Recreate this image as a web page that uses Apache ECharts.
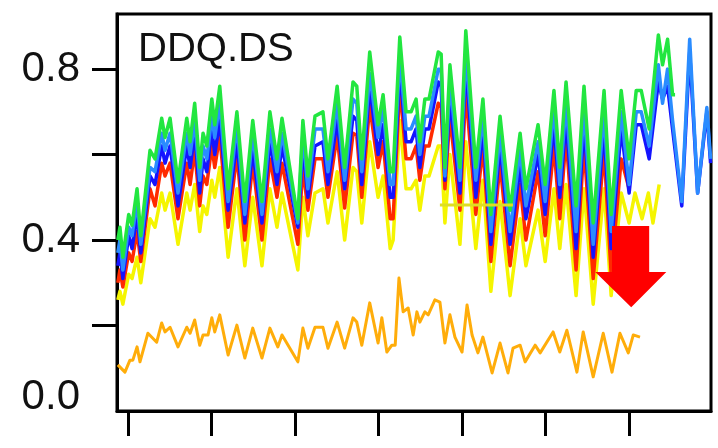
<!DOCTYPE html>
<html>
<head>
<meta charset="utf-8">
<script src="https://cdn.jsdelivr.net/npm/echarts@6/dist/echarts.min.js"></script>
<style>html,body{margin:0;padding:0;background:#fff;}#c{width:718px;height:448px;}</style>
</head>
<body>
<div id="c"></div>
<script>
// ---- data (x = sample index, y = value) ----
const chartTitle = 'DDQ.DS';
const yTickLabels = [0, 0.4, 0.8];
const yTicks = [0.2, 0.4, 0.6, 0.8];
const xTicks = [0, 20, 40, 60, 80, 100, 120];

const xMain = [-2.4,-1.9,-1.2,0.2,1.0,2.2,3.1,5.3,6.5,8.1,
  8.9,10.1,12.0,14.1,14.9,16.0,17.2,18.0,18.9,20.1,
  20.8,22.0,24.0,26.1,28.0,29.9,32.1,34.0,35.7,36.9,
  40.7,41.9,43.1,44.8,46.7,47.9,50.1,51.9,53.9,54.8,
  56.0,57.9,59.9,61.1,62.8,63.5,65.1,66.6,67.8,69.0,
  69.9,71.1,72.1,74.3,75.0,75.9,77.1,79.5,80.9,83.3,
  85.0,86.9,89.1,91.5,93.9,95.3,98.2,99.9,102.0,103.4,
  104.9,107.3,109.2,111.4,114.0,115.7,118.1,120.0];

const greenMain = [.40,.43,.36,.46,.435,.52,.41,.61,.59,.685,
  .64,.685,.536,.685,.63,.72,.57,.65,.62,.73,
  .67,.76,.52,.70,.49,.68,.49,.70,.59,.685,
  .45,.68,.55,.69,.70,.59,.76,.57,.77,.76,
  .59,.84,.67,.74,.56,.56,.875,.70,.70,.73,
  .63,.73,.73,.84,.835,.57,.81,.57,.89,.57,
  .73,.46,.69,.47,.65,.52,.67,.53,.75,.57,
  .77,.48,.76,.44,.75,.46,.75,.59];
const lightBlueMain = [.37,.40,.33,.43,.41,.49,.39,.57,.56,.65,
  .61,.65,.51,.65,.60,.68,.54,.62,.59,.69,
  .64,.72,.49,.67,.46,.65,.46,.66,.56,.65,
  .44,.65,.52,.66,.66,.56,.72,.54,.73,.72,
  .56,.79,.64,.71,.53,.53,.83,.66,.66,.69,
  .60,.69,.69,.80,.80,.55,.77,.54,.84,.54,
  .69,.42,.65,.42,.61,.48,.63,.49,.71,.53,
  .72,.42,.71,.39,.70,.42,.70,.53];
const blueMain = [.34,.37,.31,.41,.38,.46,.37,.55,.53,.62,
  .58,.62,.48,.62,.57,.65,.51,.59,.56,.66,
  .60,.68,.47,.63,.44,.61,.44,.63,.53,.62,
  .43,.62,.50,.62,.63,.53,.68,.52,.69,.68,
  .53,.76,.60,.67,.50,.50,.80,.63,.63,.66,
  .57,.66,.66,.77,.76,.54,.73,.51,.81,.50,
  .66,.39,.62,.39,.57,.45,.60,.46,.67,.50,
  .68,.38,.67,.36,.66,.38,.66,.51];
const redMain = [.30,.33,.29,.37,.35,.42,.35,.52,.48,.58,
  .55,.58,.45,.58,.53,.61,.48,.55,.53,.62,
  .57,.645,.43,.60,.40,.58,.40,.59,.50,.58,
  .39,.57,.47,.59,.59,.50,.645,.475,.65,.645,
  .50,.715,.57,.63,.45,.45,.76,.59,.59,.62,
  .54,.62,.62,.72,.71,.52,.69,.47,.75,.46,
  .62,.35,.58,.34,.53,.40,.56,.41,.62,.45,
  .64,.33,.62,.31,.61,.32,.59,.52];
const yellowMain = [.26,.28,.25,.32,.31,.36,.30,.45,.43,.51,
  .47,.51,.39,.51,.47,.53,.42,.48,.46,.54,
  .50,.57,.36,.52,.34,.50,.34,.52,.43,.51,
  .33,.50,.41,.51,.52,.44,.56,.40,.57,.56,
  .44,.63,.50,.55,.38,.40,.68,.52,.52,.54,
  .47,.55,.55,.62,.62,.44,.60,.39,.63,.38,
  .54,.28,.49,.27,.45,.34,.47,.35,.52,.38,
  .53,.27,.52,.25,.52,.27,.51,.44];

const greenTailX = [121.7,122.9,124.8,127.0,128.0,129.2,130.4,131.0];
const greenTail  = [.75,.75,.66,.88,.81,.87,.74,.74];
const blueTailX  = [121.7,122.9,124.8,127.0,128.0,129.2,130.4,132.6,134.5,136.4,138.6,139.5];
const lightBlueTail = [.70,.70,.62,.81,.72,.80,.68,.49,.87,.51,.71,.59];
const blueTail      = [.67,.67,.59,.77,.73,.76,.66,.48,.84,.51,.70,.58];
const yellowTailX = [121.4,123.1,124.6,125.7,127.2];
const yellowTail  = [.51,.45,.51,.44,.53];

const orangeX = [-2.4,-0.7,0.5,1.2,2.2,2.9,4.8,6.9,8.1,8.9,
  10.1,12.0,14.1,14.9,16.0,17.2,18.0,19.2,20.1,20.8,
  22.0,24.0,26.1,28.0,29.9,32.1,34.0,35.9,36.9,40.7,
  41.9,43.1,44.8,46.7,47.9,50.1,51.9,53.9,54.8,56.0,
  57.9,59.9,60.8,62.0,63.2,64.0,64.9,65.9,67.1,68.3,
  69.2,69.9,71.1,71.9,73.5,74.7,75.9,77.1,78.3,80.0,
  81.2,82.4,83.8,85.0,87.2,89.1,91.0,92.2,93.9,95.1,
  97.5,98.7,101.8,103.4,105.1,107.5,109.0,111.4,113.8,115.9,
  117.8,119.8,121.0,122.6];
const orangeY = [.108,.091,.119,.119,.150,.115,.182,.161,.206,.185,
  .196,.150,.196,.182,.213,.154,.178,.178,.218,.185,
  .225,.131,.201,.124,.194,.124,.194,.150,.178,.115,
  .194,.147,.196,.196,.147,.208,.147,.218,.208,.154,
  .253,.159,.218,.138,.154,.154,.311,.232,.241,.178,
  .232,.208,.232,.225,.260,.255,.159,.225,.173,.138,
  .248,.178,.136,.173,.089,.159,.089,.147,.154,.115,
  .154,.136,.185,.138,.189,.091,.185,.080,.182,.091,
  .182,.136,.178,.173];

const meanX = [74.7, 92.2];
const meanY = [0.482, 0.482];

// arrow annotation in data coordinates
const arrowBodyX = [115.9, 124.8];
const arrowBodyY = [0.433, 0.325];
const arrowHeadX = [111.9, 120.5, 128.9];
const arrowTipY = 0.243;

// ---- build ----
function pairs(xs, ys) { return xs.map((x, i) => [x, ys[i]]); }
const chart = echarts.init(document.getElementById('c'), null, {renderer: 'canvas'});
const FONT = '"Liberation Sans", Arial, sans-serif';
function line(name, data, color, w) {
  return {name, type: 'line', data, showSymbol: false, symbol: 'none',
    lineStyle: {color, width: w || 3.5, join: 'round'}, itemStyle: {color}, animation: false, silent: true};
}
const option = {
  animation: false,
  backgroundColor: '#fff',
  title: {text: chartTitle, left: 133, top: 25,
    textStyle: {fontSize: 40, fontWeight: 'normal', color: '#111', fontFamily: FONT}},
  grid: {left: 117, top: 14, right: 7, bottom: 37, show: true, borderColor: '#000', borderWidth: 3, backgroundColor: 'transparent'},
  xAxis: {type: 'value', min: -2.6, max: 139.6,
    axisLine: {show: true, onZero: false, lineStyle: {color: '#000', width: 3}},
    axisTick: {show: true, inside: false, length: 25, customValues: xTicks, lineStyle: {color: '#000', width: 3}},
    axisLabel: {show: false}, splitLine: {show: false}},
  yAxis: {type: 'value', min: 0, max: 0.929,
    axisLine: {show: true, onZero: false, lineStyle: {color: '#000', width: 3}},
    axisTick: {show: true, inside: false, length: 25, customValues: yTicks, lineStyle: {color: '#000', width: 3}},
    axisLabel: {show: true, customValues: yTickLabels, margin: 37, fontSize: 42, color: '#111', fontFamily: FONT,
      formatter: v => v === 0 ? '{z|0.0}' : v.toFixed(1),
      rich: {z: {fontSize: 42, color: '#111', fontFamily: FONT, padding: [0, 0, 28, 0]}}},
    splitLine: {show: false}},
  series: [
    line('orange', pairs(orangeX, orangeY), '#ffad0a', 3),
    line('yellow', pairs(xMain, yellowMain).concat(pairs(yellowTailX, yellowTail)), '#f5f500'),
    line('red', pairs(xMain, redMain), '#ff2a00'),
    line('blue', pairs(xMain, blueMain).concat(pairs(blueTailX, blueTail)), '#1414ff'),
    line('lightblue', pairs(xMain, lightBlueMain).concat(pairs(blueTailX, lightBlueTail)), '#2a8cff'),
    line('green', pairs(xMain, greenMain).concat(pairs(greenTailX, greenTail)), '#22e640'),
    line('mean', pairs(meanX, meanY), '#dede22', 3)
  ]
};
chart.setOption(option);
const P = (x, y) => chart.convertToPixel({gridIndex: 0}, [x, y]);
const pts = [
  P(arrowBodyX[0], arrowBodyY[0]), P(arrowBodyX[1], arrowBodyY[0]), P(arrowBodyX[1], arrowBodyY[1]),
  P(arrowHeadX[2], arrowBodyY[1]), P(arrowHeadX[1], arrowTipY), P(arrowHeadX[0], arrowBodyY[1]),
  P(arrowBodyX[0], arrowBodyY[1])
];
chart.setOption({graphic: [{type: 'polygon', shape: {points: pts}, style: {fill: '#ff0000'}, z: 100}]});
</script>
</body>
</html>
